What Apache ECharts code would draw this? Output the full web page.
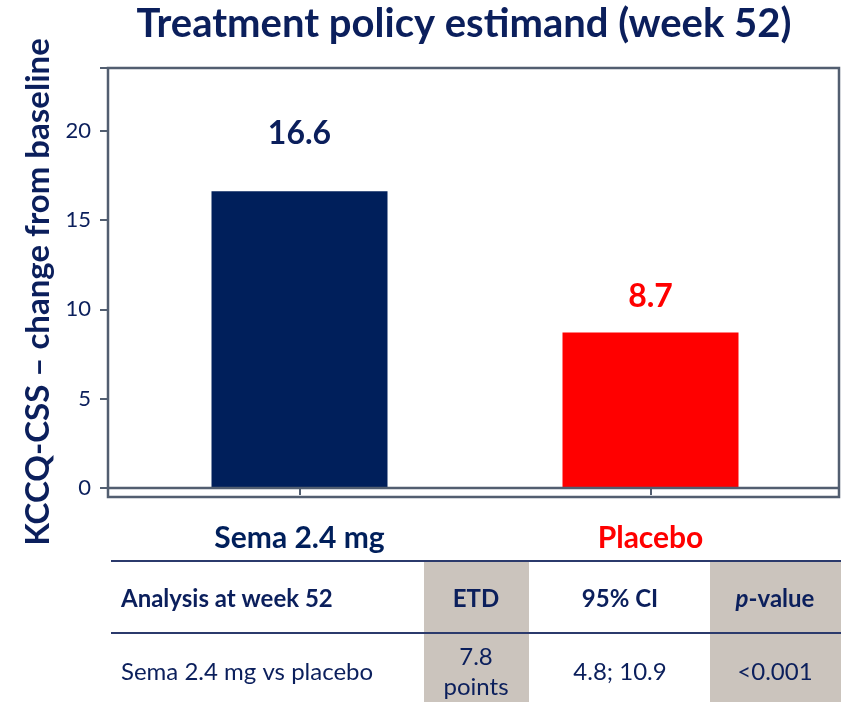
<!DOCTYPE html>
<html>
<head>
<meta charset="utf-8">
<title>Treatment policy estimand (week 52)</title>
<script src="https://cdn.jsdelivr.net/npm/echarts@6/dist/echarts.min.js"></script>
<style>
  html, body { margin: 0; padding: 0; background: #fff; }
  #main { width: 841px; height: 702px; }
</style>
</head>
<body>
<div id="main"></div>
<script>
// chart data
var categories = ['Sema 2.4 mg', 'Placebo']
var values = [16.6, 8.7]
var yTicks = [0, 5, 10, 15, 20]

// table under the chart
var tableHeader = ['Analysis at week 52', 'ETD', '95% CI', '{i|p}-value']
var tableRow = ['Sema 2.4 mg vs placebo', '7.8\npoints', '4.8; 10.9', '<0.001']

var navy = '#0b1f5c'
var barColors = ['#001f5b', '#ff0000']
var frameColor = '#525e70'
var font = 'Lato'

var myChart = echarts.init(document.getElementById('main'))

var labelGap = [42, 20] // space between value label and bar top

var option = {
    animation: false,
    title: {
        text: 'Treatment policy estimand (week 52)',
        left: 459,
        top: -1,
        textAlign: 'center',
        textStyle: { fontFamily: font, fontSize: 40, fontWeight: 'bold', color: navy }
    },
    grid: { left: 124, right: 15, top: 68, bottom: 214, containLabel: false },
    xAxis: {
        type: 'category',
        data: categories,
        offset: 9,
        axisLine: { show: false },
        axisTick: { show: true, length: 7, alignWithLabel: true, lineStyle: { color: frameColor, width: 2 } },
        axisLabel: {
            margin: 26,
            fontFamily: font,
            fontSize: 30,
            fontWeight: 'bold',
            color: function (val, i) { return barColors[i] }
        }
    },
    yAxis: {
        type: 'value',
        min: 0,
        max: 23.5,
        interval: 5,
        offset: 16,
        axisLine: { show: false },
        axisTick: { show: true, length: 8, lineStyle: { color: frameColor, width: 2 } },
        splitLine: { show: false },
        axisLabel: {
            margin: 17,
            fontFamily: font,
            fontSize: 22,
            color: navy,
            formatter: function (v) { return yTicks.indexOf(v) >= 0 ? String(v) : '' }
        }
    },
    series: [{
        type: 'bar',
        barWidth: 176,
        data: values.map(function (v, i) {
            return {
                value: v,
                itemStyle: { color: barColors[i] },
                label: {
                    show: true,
                    position: 'top',
                    distance: labelGap[i],
                    fontFamily: font,
                    fontSize: 32,
                    fontWeight: 'bold',
                    color: i === 0 ? navy : barColors[1]
                }
            }
        })
    }]
}
myChart.setOption(option)

// frame + zero line, zero line taken from the axis scale
var zeroY = myChart.convertToPixel({ yAxisIndex: 0 }, 0)
var topY = myChart.convertToPixel({ yAxisIndex: 0 }, 23.5)
var frameL = 108, frameR = 839, axisY = zeroY + 9

var colX = [121, 476, 620, 775]
var shades = [[424, 529], [710, 841]]
var line1 = 561, line2 = 633, headY = 599, rowY = 672

var g = [
    { type: 'rect', shape: { x: frameL, y: topY, width: frameR - frameL, height: axisY - topY },
      style: { fill: 'none', stroke: frameColor, lineWidth: 2.5 }, z: 10 },
    { type: 'line', shape: { x1: frameL, y1: zeroY, x2: frameR, y2: zeroY },
      style: { stroke: frameColor, lineWidth: 2.5 }, z: 10 },
    // y axis title
    { type: 'text', x: 38, y: 292, rotation: Math.PI / 2,
      style: { text: 'KCCQ-CSS \u2013 change from baseline', fill: navy, font: 'bold 33px ' + font,
               align: 'center', verticalAlign: 'middle' } }
]

shades.forEach(function (s) {
    g.push({ type: 'rect', shape: { x: s[0], y: line1, width: s[1] - s[0], height: 702 - line1 },
        style: { fill: '#cbc4bd' }, z: 1 })
})
g.push({ type: 'line', shape: { x1: 111, y1: line1, x2: 841, y2: line1 }, style: { stroke: '#2b3a6c', lineWidth: 2 }, z: 5 })
g.push({ type: 'line', shape: { x1: 111, y1: line2, x2: 841, y2: line2 }, style: { stroke: '#2b3a6c', lineWidth: 2 }, z: 5 })

tableHeader.forEach(function (t, i) {
    g.push({
        type: 'text', x: colX[i], y: headY, z: 6,
        style: {
            text: t, fill: navy, font: 'bold 24px ' + font,
            align: i === 0 ? 'left' : 'center', verticalAlign: 'middle',
            rich: { i: { fontStyle: 'italic', fontWeight: 'bold', fontSize: 24, fontFamily: font, fill: navy } }
        }
    })
})
tableRow.forEach(function (t, i) {
    g.push({
        type: 'text', x: colX[i], y: rowY, z: 6,
        style: {
            text: t, fill: navy, font: '24px ' + font, lineHeight: 30,
            align: i === 0 ? 'left' : 'center', verticalAlign: 'middle'
        }
    })
})

myChart.setOption({ graphic: g })
</script>
</body>
</html>
